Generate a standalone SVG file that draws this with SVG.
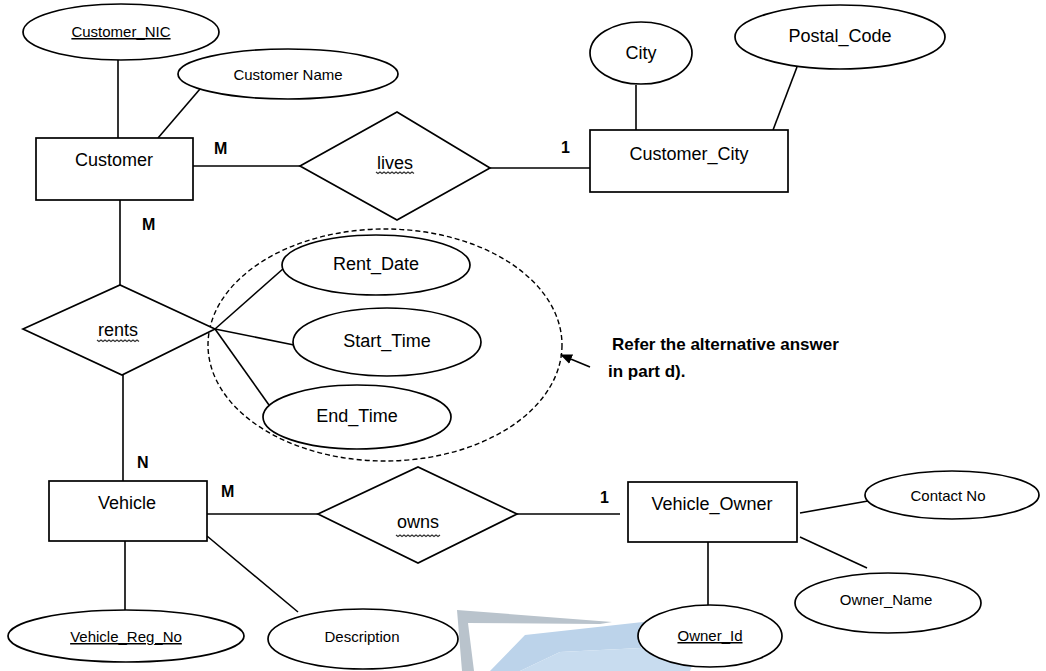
<svg xmlns="http://www.w3.org/2000/svg" width="1046" height="671" viewBox="0 0 1046 671">
<style>
.e{fill:#fff;stroke:#000;stroke-width:1.7}
.r{fill:#fff;stroke:#000;stroke-width:1.7}
.c{stroke:#000;stroke-width:1.6;fill:none}
.t{font-family:"Liberation Sans",Arial,sans-serif;fill:#000;text-anchor:middle}
.big{font-size:18px}
.sm{font-size:15px}
.u{text-decoration:underline}
.card{font-family:"Liberation Sans",Arial,sans-serif;font-size:16px;font-weight:bold;fill:#000}
.wv{fill:none;stroke:#333;stroke-width:1.2}
</style>
<defs>
<marker id="ah" markerWidth="12" markerHeight="10" refX="11" refY="5" orient="auto" markerUnits="userSpaceOnUse">
<path d="M0,0 L12,5 L0,10 Z" fill="#000"/>
</marker>
</defs>
<rect width="1046" height="671" fill="#fff"/>
<g id="watermark">
<polygon points="457,610 612,622 600,624 468,623 474,671 462,671" fill="#b9c3cc"/>
<polygon points="525,635 652,621 641,648 560,652 520,671 490,671" fill="#bcd3ea"/>
<polygon points="560,652 641,648 700,646 690,671 520,671" fill="#c8dcef"/>
</g>
<g id="connectors">
<line class="c" x1="118" y1="60" x2="118" y2="138"/>
<line class="c" x1="200" y1="89" x2="158" y2="138"/>
<line class="c" x1="193" y1="166" x2="300" y2="166"/>
<line class="c" x1="490" y1="168" x2="590" y2="168"/>
<line class="c" x1="636" y1="85" x2="636" y2="130"/>
<line class="c" x1="797" y1="67" x2="773" y2="130"/>
<line class="c" x1="120" y1="200" x2="120" y2="285"/>
<line class="c" x1="123" y1="375" x2="123" y2="481"/>
<line class="c" x1="215" y1="329" x2="284" y2="268"/>
<line class="c" x1="215" y1="329" x2="294" y2="345"/>
<line class="c" x1="215" y1="329" x2="269" y2="405"/>
<line class="c" x1="207" y1="514" x2="318" y2="514"/>
<line class="c" x1="517" y1="514" x2="620" y2="514"/>
<line class="c" x1="800" y1="513" x2="868" y2="501"/>
<line class="c" x1="800" y1="537" x2="867" y2="568"/>
<line class="c" x1="708" y1="542" x2="708" y2="606"/>
<line class="c" x1="125" y1="541" x2="125" y2="610"/>
<line class="c" x1="207" y1="536" x2="298" y2="612"/>
<line class="c" x1="590" y1="367" x2="561" y2="355" marker-end="url(#ah)"/>
</g>
<g id="group-ellipse">
<ellipse cx="385" cy="345" rx="177" ry="116" fill="none" stroke="#000" stroke-width="1.4" stroke-dasharray="5,3"/>
</g>
<g id="customer_nic">
<ellipse class="e" cx="121" cy="32" rx="98" ry="28"/>
<text class="t sm u" x="121" y="37">Customer_NIC</text>
</g>
<g id="customer_name">
<ellipse class="e" cx="288" cy="74" rx="110" ry="25"/>
<text class="t sm" x="288" y="80">Customer  Name</text>
</g>
<g id="customer">
<rect class="r" x="36" y="138" width="157" height="62"/>
<text class="t big" x="114" y="166">Customer</text>
</g>
<g id="lives">
<polygon class="r" points="300,166 397,112 490,168 397,220"/>
<text class="t big" x="395" y="169">lives</text>
<path class="wv" d="M376,172 l2,1.5 l2,-1.5 l2,1.5 l2,-1.5 l2,1.5 l2,-1.5 l2,1.5 l2,-1.5 l2,1.5 l2,-1.5 l2,1.5 l2,-1.5 l2,1.5 l2,-1.5 l2,1.5 l2,-1.5 l2,1.5 l2,-1.5 l2,1.5"/>
</g>
<g id="city">
<ellipse class="e" cx="641" cy="53" rx="51" ry="31"/>
<text class="t big" x="641" y="59">City</text>
</g>
<g id="postal_code">
<ellipse class="e" cx="840" cy="37" rx="105" ry="32"/>
<text class="t big" x="840" y="42">Postal_Code</text>
</g>
<g id="customer_city">
<rect class="r" x="590" y="130" width="198" height="62"/>
<text class="t big" x="689" y="160">Customer_City</text>
</g>
<g id="rents">
<polygon class="r" points="23,329 120,285 215,329 122,375"/>
<text class="t big" x="118" y="336">rents</text>
<path class="wv" d="M97,340 l2,1.5 l2,-1.5 l2,1.5 l2,-1.5 l2,1.5 l2,-1.5 l2,1.5 l2,-1.5 l2,1.5 l2,-1.5 l2,1.5 l2,-1.5 l2,1.5 l2,-1.5 l2,1.5 l2,-1.5 l2,1.5 l2,-1.5 l2,1.5 l2,-1.5 l2,1.5"/>
</g>
<g id="rent_date">
<ellipse class="e" cx="376" cy="265" rx="94" ry="30"/>
<text class="t big" x="376" y="270">Rent_Date</text>
</g>
<g id="start_time">
<ellipse class="e" cx="387" cy="342" rx="94" ry="34"/>
<text class="t big" x="387" y="347">Start_Time</text>
</g>
<g id="end_time">
<ellipse class="e" cx="357" cy="417" rx="94" ry="32"/>
<text class="t big" x="357" y="422">End_Time</text>
</g>
<g id="note">
<text font-family="'Liberation Sans',Arial,sans-serif" font-size="17" font-weight="bold" fill="#000" x="612" y="350">Refer the alternative answer</text>
<text font-family="'Liberation Sans',Arial,sans-serif" font-size="17" font-weight="bold" fill="#000" x="608" y="377">in part d).</text>
</g>
<g id="vehicle">
<rect class="r" x="49" y="481" width="158" height="60"/>
<text class="t big" x="127" y="509">Vehicle</text>
</g>
<g id="owns">
<polygon class="r" points="318,514 418,467 517,514 418,563"/>
<text class="t big" x="418" y="528">owns</text>
<path class="wv" d="M396,535 l2,1.5 l2,-1.5 l2,1.5 l2,-1.5 l2,1.5 l2,-1.5 l2,1.5 l2,-1.5 l2,1.5 l2,-1.5 l2,1.5 l2,-1.5 l2,1.5 l2,-1.5 l2,1.5 l2,-1.5 l2,1.5 l2,-1.5 l2,1.5 l2,-1.5 l2,1.5 l2,-1.5"/>
</g>
<g id="vehicle_owner">
<rect class="r" x="628" y="482" width="169" height="60"/>
<text class="t big" x="712" y="510">Vehicle_Owner</text>
</g>
<g id="contact_no">
<ellipse class="e" cx="952" cy="495" rx="87" ry="24"/>
<text class="t sm" x="948" y="501">Contact  No</text>
</g>
<g id="owner_name">
<ellipse class="e" cx="888" cy="603" rx="93" ry="30"/>
<text class="t sm" x="886" y="605">Owner_Name</text>
</g>
<g id="owner_id">
<ellipse class="e" cx="710" cy="636" rx="72" ry="31"/>
<text class="t sm u" x="710" y="641">Owner_Id</text>
</g>
<g id="vehicle_reg_no">
<ellipse class="e" cx="126" cy="636" rx="118" ry="26"/>
<text class="t sm u" x="126" y="642">Vehicle_Reg_No</text>
</g>
<g id="description">
<ellipse class="e" cx="363" cy="639" rx="95" ry="30"/>
<text class="t sm" x="362" y="642">Description</text>
</g>
<g id="cardinalities">
<text class="card" x="214" y="154">M</text>
<text class="card" x="142" y="230">M</text>
<text class="card" x="561" y="153">1</text>
<text class="card" x="137" y="468">N</text>
<text class="card" x="221" y="497">M</text>
<text class="card" x="600" y="503">1</text>
</g>
</svg>
